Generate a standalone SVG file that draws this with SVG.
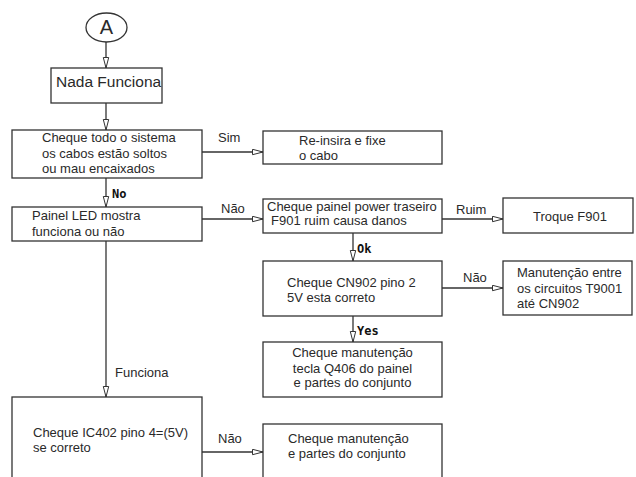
<svg xmlns="http://www.w3.org/2000/svg" width="636" height="477" viewBox="0 0 636 477">
<defs>
<marker id="ah" markerUnits="userSpaceOnUse" markerWidth="12" markerHeight="8" refX="11" refY="3.5" orient="auto">
<path d="M0.5,0.8 L11,3.5 L0.5,6.2 Z" fill="#fff" stroke="#333" stroke-width="1"/>
</marker>
<style>
.box{fill:#fff;stroke:#333;stroke-width:1.3}
.t{font-family:"Liberation Sans",Arial,sans-serif;font-size:13px;fill:#2a2a2a}
.c{text-anchor:middle}
.b{font-family:"DejaVu Sans Mono","Liberation Mono",monospace;font-size:12px;font-weight:bold;fill:#111}
.ln{stroke:#333;stroke-width:1.3;fill:none}
.a{marker-end:url(#ah)}
</style>
</defs>
<rect width="636" height="477" fill="#fff"/>
<g id="connectors">
<line class="ln a" x1="106" y1="42" x2="106" y2="68"/>
<line class="ln a" x1="106" y1="103" x2="106" y2="130"/>
<line class="ln a" x1="202" y1="152" x2="263" y2="152"/>
<line class="ln a" x1="106" y1="178" x2="106" y2="207"/>
<line class="ln a" x1="202" y1="219" x2="263" y2="219"/>
<line class="ln a" x1="442" y1="219" x2="503" y2="219"/>
<line class="ln a" x1="353" y1="233" x2="353" y2="261"/>
<line class="ln a" x1="442" y1="288" x2="503" y2="288"/>
<line class="ln a" x1="353" y1="316" x2="353" y2="342"/>
<line class="ln a" x1="106" y1="241" x2="106" y2="397"/>
<line class="ln a" x1="202" y1="452" x2="263" y2="452"/>
<text class="t" x="218" y="142">Sim</text>
<text class="b" x="112" y="198">No</text>
<text class="t" x="221" y="213">Não</text>
<text class="t" x="456" y="214">Ruim</text>
<text class="b" x="357" y="253">Ok</text>
<text class="t" x="463" y="282">Não</text>
<text class="b" x="357" y="335">Yes</text>
<text class="t" x="115" y="377">Funciona</text>
<text class="t" x="218" y="443">Não</text>
</g>
<g id="nodeA">
<ellipse cx="106.5" cy="27.5" rx="20.5" ry="14.5" fill="#fff" stroke="#333" stroke-width="1.3"/>
<text x="106.5" y="34" text-anchor="middle" style="font-family:'Liberation Sans',Arial,sans-serif;font-size:20px;fill:#2a2a2a">A</text>
</g>
<g id="nada">
<rect class="box" x="51" y="68" width="111" height="35"/>
<text class="t" x="56" y="87" style="font-size:15.5px">Nada Funciona</text>
</g>
<g id="cabos">
<rect class="box" x="12" y="130" width="190" height="48"/>
<text class="t" x="42" y="142">Cheque todo o sistema</text>
<text class="t" x="42" y="158">os cabos estão soltos</text>
<text class="t" x="42" y="173">ou mau encaixados</text>
</g>
<g id="reinsira">
<rect class="box" x="263" y="131" width="179" height="33"/>
<text class="t" x="299" y="145">Re-insira e fixe</text>
<text class="t" x="299" y="160">o cabo</text>
</g>
<g id="painel">
<rect class="box" x="12" y="207" width="190" height="34"/>
<text class="t" x="32" y="220">Painel LED mostra</text>
<text class="t" x="32" y="236">funciona ou não</text>
</g>
<g id="f901">
<rect class="box" x="263" y="199" width="179" height="34"/>
<text class="t" x="267" y="211">Cheque painel power traseiro</text>
<text class="t" x="271" y="225">F901 ruim causa danos</text>
</g>
<g id="troque">
<rect class="box" x="503" y="198" width="130" height="35"/>
<text class="t" x="533" y="221">Troque F901</text>
</g>
<g id="cn902">
<rect class="box" x="263" y="261" width="179" height="55"/>
<text class="t" x="287" y="287">Cheque CN902 pino 2</text>
<text class="t" x="287" y="302">5V esta correto</text>
</g>
<g id="manut1">
<rect class="box" x="503" y="261" width="129" height="54"/>
<text class="t" x="517" y="277">Manutenção entre</text>
<text class="t" x="517" y="293">os circuitos T9001</text>
<text class="t" x="517" y="308">até CN902</text>
</g>
<g id="q406">
<rect class="box" x="263" y="342" width="179" height="55"/>
<text class="t c" x="352.5" y="357">Cheque manutenção</text>
<text class="t c" x="352.5" y="373">tecla Q406 do painel</text>
<text class="t c" x="352.5" y="387">e partes do conjunto</text>
</g>
<g id="ic402">
<rect class="box" x="12" y="397" width="190" height="90"/>
<text class="t" x="33" y="437">Cheque IC402 pino 4=(5V)</text>
<text class="t" x="33" y="452">se correto</text>
</g>
<g id="manut2">
<rect class="box" x="263" y="424" width="179" height="63"/>
<text class="t" x="288" y="443">Cheque manutenção</text>
<text class="t" x="288" y="458">e partes do conjunto</text>
</g>
</svg>
